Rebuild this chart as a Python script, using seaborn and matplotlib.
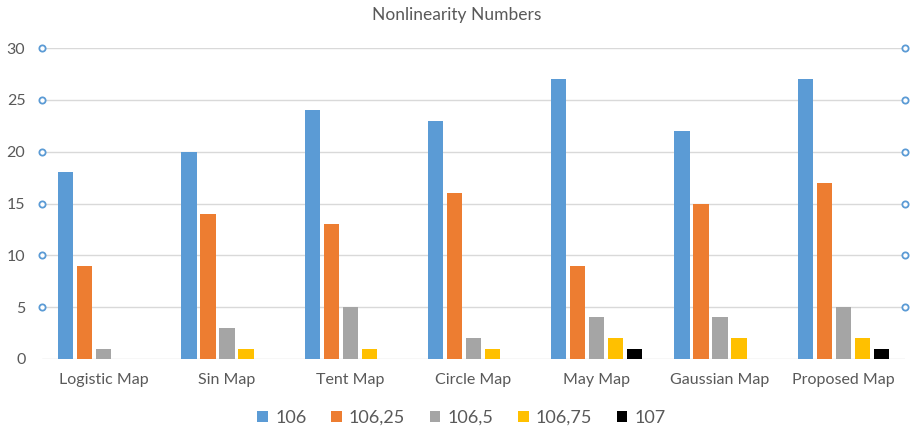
import matplotlib
matplotlib.use("Agg")
import matplotlib.pyplot as plt
import matplotlib.transforms as mtransforms
import seaborn as sns
import pandas as pd

categories = ["Logistic Map", "Sin Map", "Tent Map", "Circle Map", "May Map", "Gaussian Map", "Proposed Map"]
series_names = ["106", "106,25", "106,5", "106,75", "107"]
s106 = [18, 20, 24, 23, 27, 22, 27]
s106_25 = [9, 14, 13, 16, 9, 15, 17]
s106_5 = [1, 3, 5, 2, 4, 4, 5]
s106_75 = [0, 1, 1, 1, 2, 2, 2]
s107 = [0, 0, 0, 0, 1, 0, 1]
colors = ["#5B9BD5", "#ED7D31", "#A5A5A5", "#FFC000", "#000000"]
yticks = [0, 5, 10, 15, 20, 25, 30]

rows = []
for name, vals in zip(series_names, [s106, s106_25, s106_5, s106_75, s107]):
    for c, v in zip(categories, vals):
        rows.append({"cat": c, "series": name, "value": v})
df = pd.DataFrame(rows)

sns.set_theme(style="white")
plt.rcParams["font.family"] = ["Lato", "DejaVu Sans"]

fig = plt.figure(figsize=(9.14, 4.34), dpi=100)
ax = fig.add_axes([0.046, 0.173, 0.944, 0.716])

sns.barplot(data=df, x="cat", y="value", hue="series", order=categories,
            hue_order=series_names, palette=colors, width=0.77, gap=0.2,
            saturation=1, ax=ax, legend=True, linewidth=0)

ax.set_ylim(0, 30)
ax.set_xlim(-0.5, len(categories) - 0.5)
ax.set_yticks(yticks)
ax.yaxis.grid(True, color="#D9D9D9", linewidth=1)
ax.set_axisbelow(True)
for s in ax.spines.values():
    s.set_visible(False)
ax.tick_params(axis="both", length=0, colors="#595959", labelsize=11.5)
ax.tick_params(axis="y", pad=12)
ax.tick_params(axis="x", pad=10)
ax.set_xlabel("")
ax.set_ylabel("")

trans = mtransforms.blended_transform_factory(ax.transAxes, ax.transData)
for v in yticks[1:]:
    ax.plot([0, 1], [v, v], transform=trans, linestyle="none", marker="o",
            markersize=4.5, markerfacecolor="white", markeredgecolor="#5B9BD5",
            markeredgewidth=1.3, clip_on=False, zorder=5)

fig.suptitle("Nonlinearity Numbers", y=0.985, fontsize=12.5, color="#595959")

handles, labels = ax.get_legend_handles_labels()
ax.legend_.remove()
fig.legend(handles, labels, loc="center", bbox_to_anchor=(0.505, 0.037), ncol=5,
           frameon=False, fontsize=13, labelcolor="#595959", handlelength=0.6,
           handleheight=0.6, handletextpad=0.4, columnspacing=1.35)

fig.savefig("out.png", dpi=100)
